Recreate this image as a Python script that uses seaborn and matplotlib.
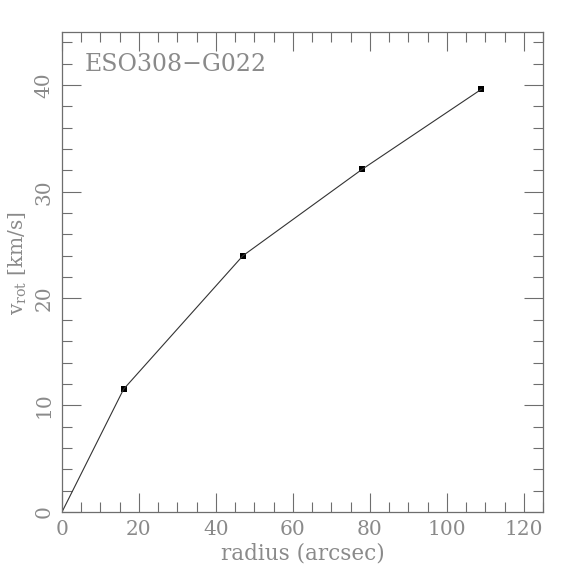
import pandas as pd
import matplotlib
matplotlib.use("Agg")
import matplotlib.pyplot as plt
import seaborn as sns
from matplotlib.ticker import MultipleLocator

# rotation curve values
radius = [0, 16, 47, 78, 109]
vrot = [0, 11.5, 24.0, 32.1, 39.6]
galaxy = "ESO308\u2212G022"

GRAY = "#6e6e6e"
TXT = "#8a8a8a"
FONT = "DejaVu Serif"


def main():
    sns.set_style("ticks")
    plt.rcParams["font.family"] = [FONT, "DejaVu Sans"]
    plt.rcParams["mathtext.fontset"] = "dejavuserif"

    df = pd.DataFrame({"radius": radius, "vrot": vrot})

    fig = plt.figure(figsize=(5.74, 5.74), dpi=100)
    ax = fig.add_axes([0.108, 0.108, 0.838, 0.837])

    sns.lineplot(data=df, x="radius", y="vrot", ax=ax, color="#333333",
                 linewidth=0.8, sort=False)
    sns.scatterplot(data=df.iloc[1:], x="radius", y="vrot", ax=ax,
                    marker="s", s=22, color="black", edgecolor="black",
                    linewidth=0)

    ax.set_xlim(0, 125)
    ax.set_ylim(0, 45)
    ax.xaxis.set_major_locator(MultipleLocator(20))
    ax.xaxis.set_minor_locator(MultipleLocator(5))
    ax.yaxis.set_major_locator(MultipleLocator(10))
    ax.yaxis.set_minor_locator(MultipleLocator(2))

    for sp in ax.spines.values():
        sp.set_visible(True)
        sp.set_color(GRAY)
        sp.set_linewidth(0.9)

    ax.tick_params(which="both", direction="in", top=True, right=True,
                   colors=GRAY, labelcolor=TXT, width=0.8)
    ax.tick_params(which="major", length=14, labelsize=14.5, pad=6)
    ax.tick_params(which="minor", length=7)
    for lab in ax.get_yticklabels():
        lab.set_rotation(90)
        lab.set_va("center")

    ax.set_xlabel("radius (arcsec)", fontsize=15.5, color=TXT, labelpad=2)
    ax.set_ylabel(r"v$_{\rm rot}$ [km/s]", fontsize=14.5, color=TXT)
    ax.yaxis.set_label_coords(-0.068, 0.518)

    ax.text(0.047, 0.955, galaxy, transform=ax.transAxes, fontsize=17,
            color=TXT, ha="left", va="top")

    fig.savefig("out.png", dpi=100)


if __name__ == "__main__":
    main()
